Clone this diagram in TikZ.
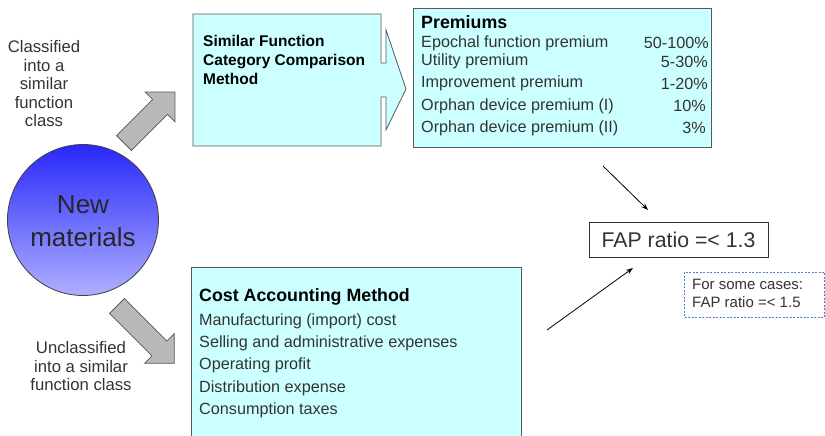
\documentclass[tikz,border=0pt]{standalone}
\usepackage{fontspec}
\setmainfont{Liberation Sans}
\usetikzlibrary{arrows.meta}
\definecolor{boxfill}{HTML}{CCFFFF}
\definecolor{boxline}{HTML}{595959}
\definecolor{txt}{HTML}{333333}
\definecolor{dashblue}{HTML}{4F7FD0}
\begin{document}
\begin{tikzpicture}[x=1pt,y=-1pt,
  every node/.style={inner sep=0pt, text=txt},
  lbl/.style={font=\fontsize{16.7}{18.5}\selectfont, align=center},
  item/.style={anchor=west, font=\fontsize{16.2}{17}\selectfont},
  val/.style={anchor=east, font=\fontsize{16.2}{17}\selectfont},
  headb/.style={anchor=west, font=\bfseries\fontsize{17.8}{19}\selectfont, text=black},
  subb/.style={anchor=west, font=\bfseries\fontsize{15.5}{19}\selectfont, text=black, align=left},
  panel/.style={draw=boxline, fill=boxfill, line width=0.8pt},
  blockarrow/.style={draw=boxline, fill=black!28, line width=0.8pt, line join=miter},
  thinarrow/.style={-{Stealth[length=7pt,width=5pt]}, line width=0.8pt}
]
\useasboundingbox (0,0) rectangle (825,436);

% circle
\node[circle, minimum size=151pt, draw=black!75, line width=0.8pt,
  top color={rgb,255:red,40;green,40;blue,250}, bottom color={rgb,255:red,175;green,175;blue,255},
  shading angle=0] (newmat) at (83,220) {};
\node[font=\fontsize{26}{33}\selectfont, align=center, text=black!85] (newtxt) at (83,221.5) {New\\materials};

% left labels
\node[lbl] (cls) at (44,84) {Classified\\into a\\similar\\function\\class};
\node[lbl] (uncls) at (81,366.5) {Unclassified\\into a similar\\function class};

% block arrows
\draw[blockarrow, shift={(124,143)}, rotate=45]
  (0,-10.5) -- (51,-10.5) -- (51,-21) -- (72,0) -- (51,21) -- (51,10.5) -- (0,10.5) -- cycle;
\draw[blockarrow, shift={(117,306)}, rotate=-45]
  (0,-10.5) -- (60,-10.5) -- (60,-21) -- (81,0) -- (60,21) -- (60,10.5) -- (0,10.5) -- cycle;

% similar function box with arrow edge
\draw[panel] (193,14) -- (381,14) -- (381,63) -- (386,63) -- (386,30) -- (406,89)
  -- (386,130) -- (386,97) -- (381,97) -- (381,146) -- (193,146) -- cycle;
\node[subb] (sim) at (203,60) {Similar Function\\Category Comparison\\Method};

% premiums box
\draw[panel] (413,8) rectangle (711,147);
\node[headb] (prem) at (421,22.5) {Premiums};
\node[item] (p1) at (421,43) {Epochal function premium};
\node[item] (p2) at (421,61.5) {Utility premium};
\node[item] (p3) at (421,83.5) {Improvement premium};
\node[item] (p4) at (421,106) {Orphan device premium (I)};
\node[item] (p5) at (421,128) {Orphan device premium (II)};
\node[val] (v1) at (709,43) {50-100\%};
\node[val] (v2) at (708,61.5) {5-30\%};
\node[val] (v3) at (708,83.5) {1-20\%};
\node[val] (v4) at (706,106) {10\%};
\node[val] (v5) at (706,128) {3\%};

% cost accounting box (extends below the page)
\fill[boxfill] (191,267) rectangle (521,436);
\draw[draw=boxline, line width=0.8pt] (191,436) -- (191,267) -- (521,267) -- (521,436);
\node[headb] (cost) at (199,297) {Cost Accounting Method};
\node[item] (c1) at (199,321) {Manufacturing (import) cost};
\node[item] (c2) at (199,343) {Selling and administrative expenses};
\node[item] (c3) at (199,365.5) {Operating profit};
\node[item] (c4) at (199,388) {Distribution expense};
\node[item] (c5) at (199,410) {Consumption taxes};

% FAP box
\node[draw=black!80, line width=0.8pt, minimum width=179pt, minimum height=35pt,
  font=\fontsize{21.3}{24}\selectfont] (fap) at (678.5,239.5) {FAP ratio =< 1.3};

% dashed note
\draw[dashblue, dashed, line width=0.8pt, dash pattern=on 2pt off 1.5pt] (684,272) rectangle (824.5,317);
\node[anchor=west, align=left, font=\fontsize{15}{18}\selectfont] (note) at (692,293)
  {For some cases:\\FAP ratio =< 1.5};

% thin arrows
\coordinate (a1s) at (603,166);
\coordinate (a1e) at (648,210);
\coordinate (a2s) at (547,330);
\coordinate (a2e) at (633,268);
\draw[thinarrow] (a1s) -- (a1e);
\draw[thinarrow] (a2s) -- (a2e);
\end{tikzpicture}
\end{document}
